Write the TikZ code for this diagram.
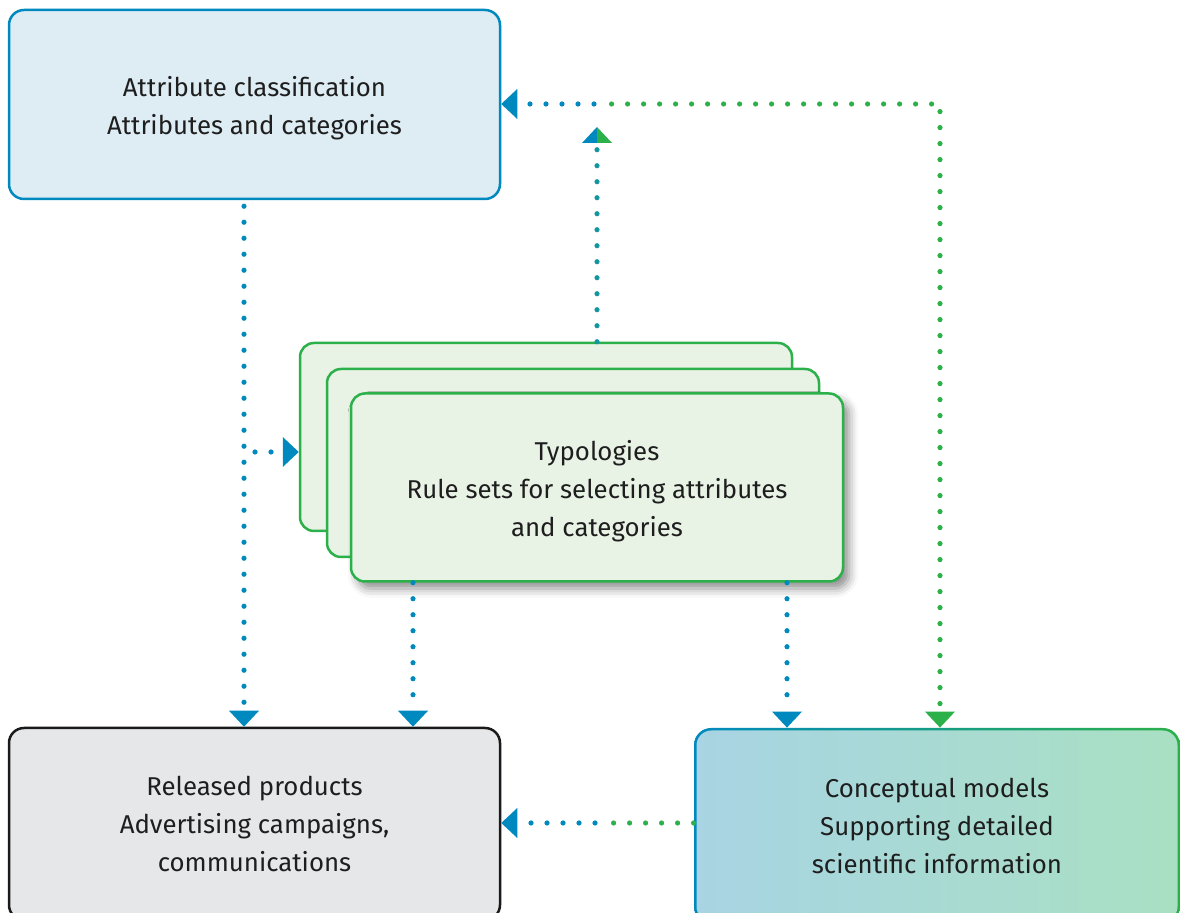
\documentclass[tikz,border=0pt]{standalone}
\usepackage{fontspec}
\setmainfont{Fira Sans}
\usetikzlibrary{calc,shadows.blur}

\definecolor{cblue}{HTML}{0089BE}
\definecolor{cgreen}{HTML}{2BB04A}
\definecolor{cteal}{HTML}{1595A0}
\definecolor{fillA}{HTML}{DEECF4}
\definecolor{fillR}{HTML}{E6E7E9}
\definecolor{fillT}{HTML}{E8F2E5}
\definecolor{fillCl}{HTML}{A8D4E3}
\definecolor{fillCr}{HTML}{A9E0C3}
\definecolor{edgeR}{HTML}{1A1A1A}
\definecolor{ink}{HTML}{1E1E1E}

% strut that lowers a centred text block slightly
\newcommand{\lowstrut}{\rule{0pt}{13.5pt}}

\begin{document}
\begin{tikzpicture}[x=0.5pt,y=-0.5pt,
  box/.style={rectangle, rounded corners=7.5pt, line width=1.25pt, align=center,
    font=\fontsize{12.9}{18.9}\selectfont, text=ink, inner sep=0pt},
  stackbox/.style={box, draw=cgreen, fill=fillT, rounded corners=7pt,
    minimum width=246pt, minimum height=94pt},
  dots/.style={line width=2.6pt, line cap=round, dash pattern=on 0pt off 8pt},
  tip/.pic={\fill (0,0) -- (-7.5pt,8pt) -- (7.5pt,8pt) -- cycle;}
]
\useasboundingbox (0,0) rectangle (1180,913);
\clip (0,0) rectangle (1180,913);

% main boxes
\node[box, draw=cblue, fill=fillA, minimum width=245.5pt, minimum height=94.5pt]
  (A) at (254.5,104.5) {\lowstrut Attribute classification\\Attributes and categories};
\node[box, draw=edgeR, fill=fillR, minimum width=245.5pt, minimum height=96pt]
  (R) at (254.5,824) {Released products\\Advertising campaigns,\\communications};

% conceptual models: shaded rim under a shaded face
\node[rectangle, rounded corners=8.5pt, left color=cblue, right color=cgreen,
  minimum width=243pt, minimum height=98pt, inner sep=0pt] (Cedge) at (937,826) {};
\node[box, rounded corners=7.5pt, left color=fillCl, right color=fillCr,
  minimum width=240.5pt, minimum height=95.5pt]
  (C) at (937,826) {Conceptual models\\Supporting detailed\\scientific information};

% stacked typology cards
\node[stackbox] (T3) at (546,437) {};
\node[stackbox] (T2) at (573,463) {};
\node[stackbox, blur shadow={shadow xshift=3pt, shadow yshift=-3.5pt,
  shadow blur radius=4.5pt, shadow opacity=45}]
  (T1) at (597,487.5) {\lowstrut Typologies\\Rule sets for selecting attributes\\and categories};

% connector columns and rows
\coordinate (xa) at (244,0);
\coordinate (xb) at (413,0);
\coordinate (xc) at (787,0);
\coordinate (br) at (244,452);
\coordinate (up) at (597,127);
\coordinate (corner) at (940,104);
\coordinate (mid) at (594,104);
\coordinate (row) at (0,823);
\coordinate (mid2) at (595,823);

% attribute classification -> released products, with branch to typologies
\draw[dots, cblue, shorten <=3pt, shorten >=10pt] (A.south -| xa) -- (R.north -| xa);
\pic[cblue] at (R.north -| xa) {tip};
\draw[dots, cblue, shorten <=5.5pt, shorten >=9pt] (br) -- (T3.west |- br);
\pic[cblue, rotate=90] at (T3.west |- br) {tip};

% typologies -> upward split tip
\draw[dots, cteal, shorten >=11pt] (T3.north -| up) -- (up);
\fill[cblue] (up) -- ++(-7.5pt,-8pt) -- ++(7.5pt,0pt) -- cycle;
\fill[cgreen] (up) -- ++(7.5pt,-8pt) -- ++(-7.5pt,0pt) -- cycle;

% conceptual models <-> attribute classification
\draw[dots, cgreen, shorten <=12pt, shorten >=4pt] (Cedge.north -| corner) -- (corner) -- (mid);
\draw[dots, cblue, shorten >=10pt] (mid) -- (A.east |- corner);
\pic[cgreen] at (Cedge.north -| corner) {tip};
\pic[cblue, rotate=-90] at (A.east |- corner) {tip};

% typologies -> released products / conceptual models
\draw[dots, cblue, shorten >=10pt] (T1.south -| xb) -- (R.north -| xb);
\pic[cblue] at (R.north -| xb) {tip};
\draw[dots, cblue, shorten >=10pt] (T1.south -| xc) -- (Cedge.north -| xc);
\pic[cblue] at (Cedge.north -| xc) {tip};

% conceptual models -> released products
\draw[dots, cgreen, shorten >=5pt] (Cedge.west |- row) -- (mid2);
\draw[dots, cblue, shorten >=10pt] (mid2) -- (R.east |- row);
\pic[cblue, rotate=-90] at (R.east |- row) {tip};
\end{tikzpicture}
\end{document}
